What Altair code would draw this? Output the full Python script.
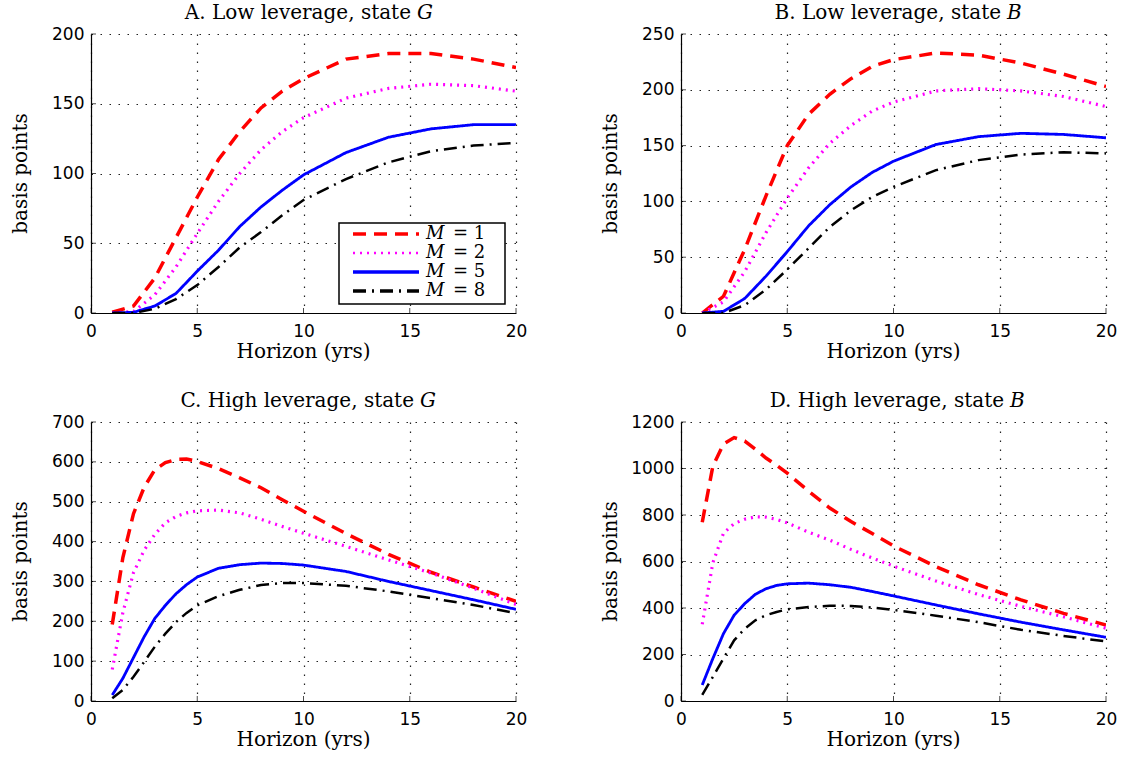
import altair as alt
import pandas as pd

# ---------------- data ----------------
series_labels = ["M=1", "M=2", "M=5", "M=8"]
series_numbers = ["= 1", "= 2", "= 5", "= 8"]
series_colors = ["#ff0000", "#ff00ff", "#0000ff", "#000000"]
series_dashes = [[13, 8], [2, 5], [1, 0], [13, 6, 2, 6]]
series_widths = [3.5, 2.5, 3.5, 3.5]

horizon_low = [1, 2, 3, 4, 5, 6, 7, 8, 9, 10, 12, 14, 16, 18, 20]
horizon_high = [1, 1.5, 2, 2.5, 3, 3.5, 4, 4.5, 5, 6, 7, 8, 9, 10, 12, 14, 16, 18, 20]

# A. Low leverage, state G
a_m1 = [0.5, 5, 25, 54, 83, 110, 130, 147, 159, 168, 182, 186, 186, 182, 176]
a_m2 = [0, 1, 13, 33, 57, 80, 100, 117, 130, 140, 154, 161, 164, 163, 159]
a_m5 = [0, 0.5, 5, 14, 30, 45, 62, 76, 88, 99, 115, 126, 132, 135, 135]
a_m8 = [0, 0, 3, 10, 20, 33, 47, 58, 70, 81, 96, 108, 116, 120, 122]

# B. Low leverage, state B
b_m1 = [0, 15, 57, 105, 150, 178, 196, 210, 221, 227, 233, 231, 224, 214, 203]
b_m2 = [0, 10, 37, 72, 103, 130, 152, 168, 181, 189, 199, 201, 199, 194, 185]
b_m5 = [0, 1.5, 13, 33, 55, 78, 97, 113, 126, 136, 151, 158, 161, 160, 157]
b_m8 = [0, 0, 7, 21, 39, 58, 77, 92, 104, 113, 128, 137, 142, 144, 143]

# C. High leverage, state G
c_m1 = [192, 360, 470, 536, 580, 598, 606, 607, 601, 583, 560, 535, 505, 476, 420, 368, 323, 286, 250]
c_m2 = [79, 222, 322, 378, 418, 447, 463, 472, 477, 479, 472, 456, 438, 421, 388, 354, 321, 283, 242]
c_m5 = [15, 57, 109, 161, 207, 240, 269, 292, 311, 333, 342, 346, 345, 341, 325, 300, 277, 254, 230]
c_m8 = [7, 28, 61, 98, 136, 169, 198, 221, 240, 263, 279, 291, 296, 296, 289, 275, 258, 241, 220]

# D. High leverage, state B
d_m1 = [769, 1010, 1105, 1133, 1118, 1083, 1045, 1014, 980, 903, 830, 772, 720, 667, 578, 500, 435, 377, 327]
d_m2 = [330, 595, 722, 763, 782, 792, 791, 781, 766, 726, 692, 652, 615, 580, 516, 458, 407, 362, 313]
d_m5 = [69, 183, 290, 369, 419, 459, 483, 497, 504, 507, 500, 489, 471, 452, 413, 375, 339, 306, 274]
d_m8 = [26, 104, 183, 261, 311, 347, 369, 383, 394, 404, 410, 409, 402, 392, 367, 339, 306, 280, 256]

x_ticks = [0, 5, 10, 15, 20]
a_y_ticks = [0, 50, 100, 150, 200]
b_y_ticks = [0, 50, 100, 150, 200, 250]
c_y_ticks = [0, 100, 200, 300, 400, 500, 600, 700]
d_y_ticks = [0, 200, 400, 600, 800, 1000, 1200]

titles_main = ["A. Low leverage, state", "B. Low leverage, state",
               "C. High leverage, state", "D. High leverage, state"]
titles_var = ["G", "B", "G", "B"]

x_title = "Horizon (yrs)"
y_title = "basis points"

W, H = 425, 279
SERIF = "DejaVu Serif"
SANS = "DejaVu Sans"


def axis(values, x_axis):
    common = dict(
        values=values, title=None, format="d",
        labelFont=SANS, labelFontSize=17, labelColor="black",
        domainColor="black", domainWidth=1.2, ticks=False,
        grid=True, gridColor="#222222", gridWidth=1.2, gridOpacity=1, gridDash=[1.5, 7.5],
    )
    if x_axis:
        return alt.Axis(labelFlush=False, labelPadding=10, **common)
    return alt.Axis(labelPadding=7, **common)


def text_layer(s, size=20, **props):
    return alt.Chart(pd.DataFrame({"t": [s]})).mark_text(
        font=SERIF, fontSize=size, color="black", **props)


def make_panel(idx, xs, ys_list, y_max, y_ticks, with_legend):
    rows = []
    for lab, ys in zip(series_labels, ys_list):
        for xv, yv in zip(xs, ys):
            rows.append({"horizon": xv, "value": yv, "series": lab})
    df = pd.DataFrame(rows)

    x_enc = alt.X("horizon:Q",
                  scale=alt.Scale(domain=[0, 20], nice=False, zero=False),
                  axis=axis(x_ticks, True))
    y_enc = alt.Y("value:Q",
                  scale=alt.Scale(domain=[0, y_max], nice=False),
                  axis=axis(y_ticks, False))

    lines = alt.Chart(df).mark_line(clip=True).encode(
        x=x_enc,
        y=y_enc,
        color=alt.Color("series:N", scale=alt.Scale(domain=series_labels, range=series_colors), legend=None),
        strokeDash=alt.StrokeDash("series:N", scale=alt.Scale(domain=series_labels, range=series_dashes), legend=None),
        strokeWidth=alt.StrokeWidth("series:N", scale=alt.Scale(domain=series_labels, range=series_widths), legend=None),
    )

    xt = alt.Chart(pd.DataFrame({"horizon": x_ticks})).mark_tick(
        orient="vertical", size=5, thickness=1, color="black").encode(
        x=x_enc, y=alt.value(H - 2.5))
    yt = alt.Chart(pd.DataFrame({"value": y_ticks})).mark_tick(
        orient="horizontal", size=5, thickness=1, color="black").encode(
        y=y_enc, x=alt.value(2.5))

    right = 320 if idx < 2 else 323
    t1 = text_layer(titles_main[idx], align="right", baseline="alphabetic").encode(
        text="t:N", x=alt.value(right), y=alt.value(-15))
    t2 = text_layer(titles_var[idx], fontStyle="italic", align="left", baseline="alphabetic").encode(
        text="t:N", x=alt.value(right + 6), y=alt.value(-15))

    xtitle = text_layer(x_title, align="center", baseline="alphabetic").encode(
        text="t:N", x=alt.value(W / 2), y=alt.value(H + 45))
    ytitle = text_layer(y_title, align="center", baseline="middle", angle=270).encode(
        text="t:N", x=alt.value(-70), y=alt.value(H / 2))

    layers = [lines, xt, yt, t1, t2, xtitle, ytitle]

    if with_legend:
        box = alt.Chart(pd.DataFrame({"k": [0]})).mark_rect(
            fill="white", stroke="black", strokeWidth=1.5).encode(
            x=alt.value(248), x2=alt.value(414), y=alt.value(189), y2=alt.value(270))
        layers.append(box)
        row_y = [200, 219, 238, 257]
        for i in range(4):
            rule = alt.Chart(pd.DataFrame({"k": [0]})).mark_rule(
                color=series_colors[i], strokeDash=series_dashes[i],
                strokeWidth=series_widths[i]).encode(
                x=alt.value(262), x2=alt.value(328), y=alt.value(row_y[i]))
            m = text_layer("M", size=18, fontStyle="italic", align="left", baseline="middle").encode(
                text="t:N", x=alt.value(335), y=alt.value(row_y[i]))
            n = text_layer(series_numbers[i], size=18, align="left", baseline="middle").encode(
                text="t:N", x=alt.value(362), y=alt.value(row_y[i]))
            layers += [rule, m, n]

    return alt.layer(*layers).properties(width=W, height=H)


pA = make_panel(0, horizon_low, [a_m1, a_m2, a_m5, a_m8], 200, a_y_ticks, True)
pB = make_panel(1, horizon_low, [b_m1, b_m2, b_m5, b_m8], 250, b_y_ticks, False)
pC = make_panel(2, horizon_high, [c_m1, c_m2, c_m5, c_m8], 700, c_y_ticks, False)
pD = make_panel(3, horizon_high, [d_m1, d_m2, d_m5, d_m8], 1200, d_y_ticks, False)

chart = alt.concat(
    pA, pB, pC, pD, columns=2,
    spacing={"row": 109, "column": 165}, bounds="flush"
).properties(
    padding={"left": 11, "top": 3, "right": 5, "bottom": 5},
    background="white",
).configure_view(
    stroke=None
)

chart.save("out.html", embed_options={"renderer": "svg", "actions": False})
